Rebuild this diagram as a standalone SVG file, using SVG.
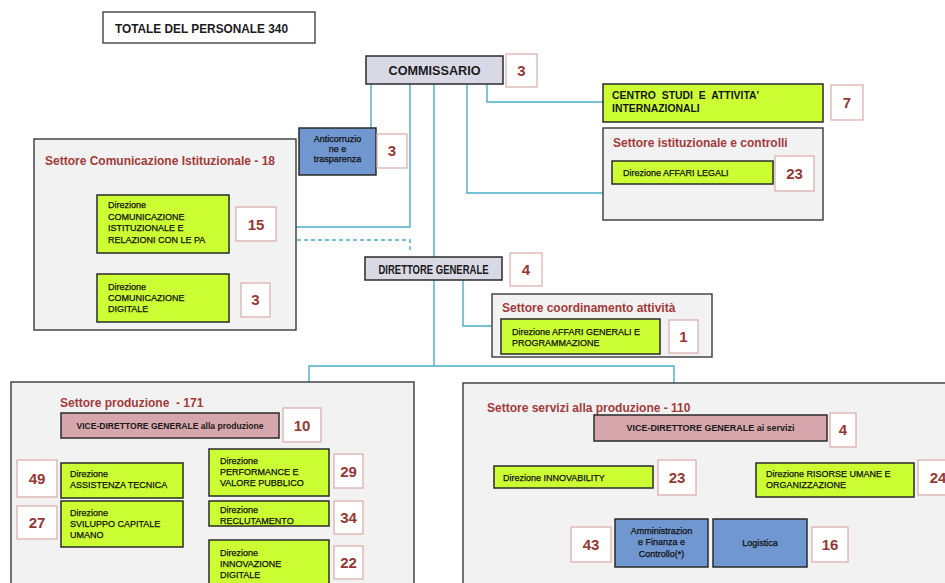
<svg xmlns="http://www.w3.org/2000/svg" width="945" height="583" viewBox="0 0 945 583">
<style>
.bg{fill:#ffffff}
.conn{fill:none;stroke:#4aacc6;stroke-width:1.4}
.dash{fill:none;stroke:#4aacc6;stroke-width:1.4;stroke-dasharray:4 3}
.sector{fill:#f2f2f2;stroke:#3a3a3a;stroke-width:1.4}
.green{fill:#ccff33;stroke:#2a2a2a;stroke-width:1.5}
.blue{fill:#7097cf;stroke:#2a2a2a;stroke-width:1.5}
.head{fill:#d9d9e6;stroke:#2a2a2a;stroke-width:1.5}
.vdg{fill:#d6a6ad;stroke:#2a2a2a;stroke-width:1.5}
.num{fill:#ffffff;stroke:#d9abab;stroke-width:1.2}
.nt{font-family:"Liberation Sans",Arial,sans-serif;font-weight:bold;font-size:15px;fill:#953735;text-anchor:middle}
.lbl{font-family:"Liberation Sans",Arial,sans-serif;font-size:9px;fill:#111;stroke:#111;stroke-width:0.25}
.lblc{font-family:"Liberation Sans",Arial,sans-serif;font-size:9px;fill:#111;stroke:#111;stroke-width:0.25;text-anchor:middle}
.title{font-family:"Liberation Sans",Arial,sans-serif;font-weight:bold;font-size:12px;fill:#a33a3a}
.hd{font-family:"Liberation Sans",Arial,sans-serif;font-weight:bold;font-size:12px;fill:#1a1a1a;text-anchor:middle}
.vt{font-family:"Liberation Sans",Arial,sans-serif;font-weight:bold;font-size:9px;fill:#1a1a1a;text-anchor:middle}
.cs{font-family:"Liberation Sans",Arial,sans-serif;font-weight:bold;font-size:10.4px;fill:#151515}
</style>
<rect class="bg" x="0" y="0" width="945" height="583"/>

<g id="connectors">
<path class="conn" d="M371,84 V128"/>
<path class="conn" d="M410,84 V227 H296"/>
<path class="dash" d="M297,240 H410 V253"/>
<path class="conn" d="M434,84 V257"/>
<path class="conn" d="M467,84 V193 H603"/>
<path class="conn" d="M487,84 V102 H603"/>
<path class="conn" d="M166,253 V274"/>
<path class="conn" d="M434,280 V366"/>
<path class="conn" d="M463,280 V326 H492"/>
<path class="conn" d="M309,382 V366 H674 V383"/>
<path class="conn" d="M193,438 V568 H209"/>
<path class="conn" d="M183,486 H209"/>
<path class="conn" d="M183,524 H209"/>
<path class="conn" d="M711,441 V502"/>
<path class="conn" d="M509,466 V450 H838 V463"/>
<path class="conn" d="M675,519 V502 H746 V519"/>
</g>

<g id="totale">
<rect x="103" y="12" width="212" height="31" fill="#fff" stroke="#333" stroke-width="1.3"/>
<text x="115" y="33" font-family="Liberation Sans,Arial,sans-serif" font-weight="bold" font-size="12.5" fill="#1a1a1a" textLength="173" lengthAdjust="spacingAndGlyphs">TOTALE DEL PERSONALE 340</text>
</g>

<g id="commissario">
<rect class="head" x="366" y="56" width="137" height="28"/>
<text class="hd" x="434.5" y="75" textLength="92" lengthAdjust="spacingAndGlyphs">COMMISSARIO</text>
<rect class="num" x="506" y="54" width="31" height="33"/>
<text class="nt" x="521.5" y="76">3</text>
</g>

<g id="anticorruzione">
<rect class="blue" x="299" y="128" width="77" height="47"/>
<text class="lblc" x="337.5" y="142" font-size="8.5">Anticorruzio</text>
<text class="lblc" x="337.5" y="152" font-size="8.5">ne e</text>
<text class="lblc" x="337.5" y="162" font-size="8.5">trasparenza</text>
<rect class="num" x="377" y="134" width="30" height="34"/>
<text class="nt" x="392" y="156">3</text>
</g>

<g id="centro-studi">
<rect class="green" x="603" y="84" width="220" height="38"/>
<text class="cs" x="612" y="99" word-spacing="3">CENTRO STUDI E ATTIVITA'</text>
<text class="cs" x="612" y="112">INTERNAZIONALI</text>
<rect class="num" x="831" y="85" width="32" height="35"/>
<text class="nt" x="847" y="108">7</text>
</g>

<g id="settore-istituzionale">
<rect class="sector" x="603" y="128" width="220" height="92"/>
<text class="title" x="613" y="147">Settore istituzionale e controlli</text>
</g>

<g id="affari-legali">
<rect class="green" x="612" y="161" width="161" height="23"/>
<text class="lbl" x="623" y="176">Direzione AFFARI LEGALI</text>
<rect class="num" x="775" y="156" width="39" height="35"/>
<text class="nt" x="794.5" y="179" font-size="16">23</text>
</g>

<g id="settore-comunicazione">
<rect class="sector" x="34" y="139" width="262" height="191"/>
<text class="title" x="45" y="165">Settore Comunicazione Istituzionale - 18</text>
</g>

<g id="dir-comunicazione-istituzionale">
<rect class="green" x="97" y="195" width="132" height="58"/>
<text class="lbl" x="108" y="208">Direzione</text>
<text class="lbl" x="108" y="220">COMUNICAZIONE</text>
<text class="lbl" x="108" y="231">ISTITUZIONALE E</text>
<text class="lbl" x="108" y="243">RELAZIONI CON LE PA</text>
<rect class="num" x="236" y="207" width="40" height="34"/>
<text class="nt" x="256" y="230" font-size="16">15</text>
</g>

<g id="dir-comunicazione-digitale">
<rect class="green" x="97" y="274" width="132" height="48"/>
<text class="lbl" x="108" y="290">Direzione</text>
<text class="lbl" x="108" y="301">COMUNICAZIONE</text>
<text class="lbl" x="108" y="312">DIGITALE</text>
<rect class="num" x="241" y="283" width="29" height="34"/>
<text class="nt" x="255.5" y="305">3</text>
</g>

<g id="direttore-generale">
<rect class="head" x="365" y="257" width="137" height="23"/>
<text class="hd" x="433.5" y="273.5" font-size="11.5" textLength="110" lengthAdjust="spacingAndGlyphs">DIRETTORE GENERALE</text>
<rect class="num" x="510" y="253" width="32" height="33"/>
<text class="nt" x="526" y="275">4</text>
</g>

<g id="settore-coordinamento">
<rect class="sector" x="492" y="294" width="220" height="63"/>
<text class="title" x="502" y="312">Settore coordinamento attività</text>
</g>

<g id="affari-generali">
<rect class="green" x="501" y="319" width="159" height="35"/>
<text class="lbl" x="512" y="335">Direzione AFFARI GENERALI E</text>
<text class="lbl" x="512" y="346">PROGRAMMAZIONE</text>
<rect class="num" x="669" y="320" width="29" height="33"/>
<text class="nt" x="683.5" y="342">1</text>
</g>

<g id="settore-produzione">
<rect class="sector" x="11" y="382" width="403" height="210"/>
<text class="title" x="60" y="407" xml:space="preserve">Settore produzione  - 171</text>
</g>

<g id="vdg-produzione">
<rect class="vdg" x="61" y="413" width="218" height="25"/>
<text class="vt" x="170" y="429" textLength="187" lengthAdjust="spacingAndGlyphs">VICE-DIRETTORE GENERALE alla produzione</text>
<rect class="num" x="283" y="408" width="38" height="34"/>
<text class="nt" x="302" y="431" font-size="16">10</text>
</g>

<g id="assistenza-tecnica">
<rect class="green" x="61" y="463" width="122" height="35"/>
<text class="lbl" x="70" y="477">Direzione</text>
<text class="lbl" x="70" y="488">ASSISTENZA TECNICA</text>
<rect class="num" x="17" y="460" width="40" height="37"/>
<text class="nt" x="37" y="484" font-size="16">49</text>
</g>

<g id="sviluppo-capitale">
<rect class="green" x="61" y="501" width="122" height="46"/>
<text class="lbl" x="70" y="515.5">Direzione</text>
<text class="lbl" x="70" y="527">SVILUPPO CAPITALE</text>
<text class="lbl" x="70" y="538">UMANO</text>
<rect class="num" x="17" y="506" width="40" height="33"/>
<text class="nt" x="37" y="528" font-size="16">27</text>
</g>

<g id="performance">
<rect class="green" x="209" y="449" width="120" height="47"/>
<text class="lbl" x="220" y="464">Direzione</text>
<text class="lbl" x="220" y="475">PERFORMANCE E</text>
<text class="lbl" x="220" y="486">VALORE PUBBLICO</text>
<rect class="num" x="334" y="454" width="29" height="34"/>
<text class="nt" x="348.5" y="477" font-size="16">29</text>
</g>

<g id="reclutamento">
<rect class="green" x="209" y="501" width="120" height="25"/>
<text class="lbl" x="220" y="513">Direzione</text>
<text class="lbl" x="220" y="524">RECLUTAMENTO</text>
<rect class="num" x="334" y="501" width="29" height="33"/>
<text class="nt" x="348.5" y="523" font-size="16">34</text>
</g>

<g id="innovazione-digitale">
<rect class="green" x="209" y="540" width="120" height="50"/>
<text class="lbl" x="220" y="556">Direzione</text>
<text class="lbl" x="220" y="567">INNOVAZIONE</text>
<text class="lbl" x="220" y="578">DIGITALE</text>
<rect class="num" x="334" y="546" width="29" height="33"/>
<text class="nt" x="348.5" y="568" font-size="16">22</text>
</g>

<g id="settore-servizi">
<rect class="sector" x="463" y="383" width="490" height="210"/>
<text class="title" x="487" y="412">Settore servizi alla produzione - 110</text>
</g>

<g id="vdg-servizi">
<rect class="vdg" x="594" y="415" width="233" height="26"/>
<text class="vt" x="710.5" y="431" textLength="168" lengthAdjust="spacingAndGlyphs">VICE-DIRETTORE GENERALE ai servizi</text>
<rect class="num" x="830" y="413" width="26" height="34"/>
<text class="nt" x="843" y="435">4</text>
</g>

<g id="innovability">
<rect class="green" x="494" y="466" width="159" height="22"/>
<text class="lbl" x="503" y="481">Direzione INNOVABILITY</text>
<rect class="num" x="658" y="460" width="38" height="35"/>
<text class="nt" x="677" y="483" font-size="16">23</text>
</g>

<g id="risorse-umane">
<rect class="green" x="756" y="463" width="158" height="34"/>
<text class="lbl" x="766" y="477">Direzione RISORSE UMANE E</text>
<text class="lbl" x="766" y="488">ORGANIZZAZIONE</text>
<rect class="num" x="918" y="460" width="40" height="35"/>
<text class="nt" x="938" y="483" font-size="16">24</text>
</g>

<g id="amministrazione">
<rect class="blue" x="615" y="519" width="93" height="48"/>
<text class="lblc" x="661.5" y="534">Amministrazion</text>
<text class="lblc" x="661.5" y="545">e Finanza e</text>
<text class="lblc" x="661.5" y="557">Controllo(*)</text>
<rect class="num" x="571" y="527" width="40" height="35"/>
<text class="nt" x="591" y="550" font-size="16">43</text>
</g>

<g id="logistica">
<rect class="blue" x="713" y="519" width="94" height="48"/>
<text class="lblc" x="760" y="546">Logistica</text>
<rect class="num" x="812" y="527" width="36" height="35"/>
<text class="nt" x="830" y="550" font-size="16">16</text>
</g>
</svg>
